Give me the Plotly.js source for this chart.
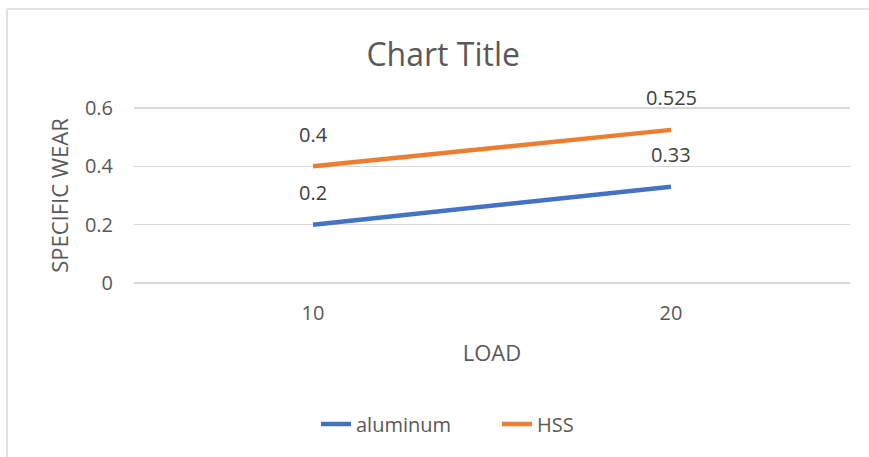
<!DOCTYPE html>
<html>
<head>
<meta charset="utf-8">
<script src="https://cdn.plot.ly/plotly-3.0.1.min.js"></script>
<style>
html,body{margin:0;padding:0;background:#fff;}
#chart{width:869px;height:457px;}
</style>
</head>
<body>
<div id="chart"></div>
<script>
const categories = ["10", "20"];
const aluminum = [0.2, 0.33];
const hss = [0.4, 0.525];
const yTicks = [0, 0.2, 0.4, 0.6];
const yTickLabels = ["0", "0.2", "0.4", "0.6"];

const font = "Open Sans, Lato, sans-serif";
const textColor = "#595959";

const traces = [
  {
    x: categories, y: aluminum, name: "aluminum", type: "scatter", mode: "lines",
    line: {color: "#4472C4", width: 4.5}
  },
  {
    x: categories, y: hss, name: "HSS", type: "scatter", mode: "lines",
    line: {color: "#ED7D31", width: 4.5}
  }
];

const labelAnnotations = [];
[aluminum, hss].forEach(series => {
  series.forEach((v, i) => {
    labelAnnotations.push({
      x: i, y: v, xref: "x", yref: "y",
      text: String(v), showarrow: false, yshift: 32,
      font: {family: font, size: 20, color: "#404040"}
    });
  });
});

const mT = 106, mB = 172, H = 457;
const plotH = H - mT - mB;
const py = px => (H - mB - px) / plotH;
const mL = 134, mR = 19, W = 869;
const plotW = W - mL - mR;
const pxX = px => (px - mL) / plotW;
const pad = (plotH - 175) / 2 / 175 * 0.6;

const layout = {
  width: W, height: H,
  margin: {l: mL, r: mR, t: mT, b: mB},
  paper_bgcolor: "#fff", plot_bgcolor: "#fff",
  font: {family: font, color: textColor, size: 20},
  title: {text: "Chart Title", x: 0.51, xanchor: "center", y: 0.88, yanchor: "middle",
          font: {family: font, size: 32, color: textColor}},
  xaxis: {
    type: "category", range: [-0.5, 1.5],
    showgrid: false, zeroline: false, showline: false, ticks: "",
    ticklabelstandoff: 14,
    tickfont: {family: font, size: 20, color: textColor},
    title: {text: "LOAD", standoff: 20, font: {family: font, size: 22, color: textColor}}
  },
  yaxis: {
    range: [-pad, 0.6 + pad], tickvals: yTicks, ticktext: yTickLabels,
    showgrid: true, gridcolor: "#d9d9d9", gridwidth: 1.5,
    zeroline: false, showline: false, ticks: "",
    ticklabelstandoff: 20,
    tickfont: {family: font, size: 20, color: textColor},
    title: {text: "SPECIFIC WEAR", standoff: 10, font: {family: font, size: 22, color: textColor}}
  },
  showlegend: true,
  legend: {orientation: "h", x: pxX(316), xanchor: "left", y: py(424), yanchor: "middle",
           font: {family: font, size: 20, color: textColor}, entrywidth: 136, traceorder: "normal"},
  annotations: labelAnnotations,
  shapes: [
    {type: "line", xref: "paper", yref: "paper",
     x0: pxX(7), x1: pxX(7), y0: py(9), y1: py(457),
     line: {color: "#d9d9d9", width: 1.5}},
    {type: "line", xref: "paper", yref: "paper",
     x0: pxX(7), x1: pxX(869), y0: py(9), y1: py(9),
     line: {color: "#d9d9d9", width: 1.5}}
  ]
};

Plotly.newPlot("chart", traces, layout, {displayModeBar: false, staticPlot: true});
</script>
</body>
</html>
